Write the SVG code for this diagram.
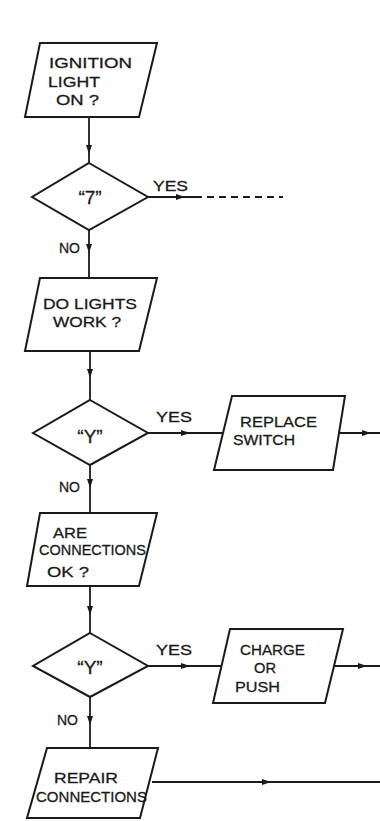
<svg xmlns="http://www.w3.org/2000/svg" width="380" height="821" viewBox="0 0 380 821">
<style>
.s{fill:#fff;stroke:#1a1a1a;stroke-width:2;stroke-linejoin:miter}
.c{fill:none;stroke:#1a1a1a;stroke-width:1.8;marker-mid:url(#ah)}
.t{font-family:"Liberation Sans","DejaVu Sans",sans-serif;font-size:15.5px;fill:#1a1a1a;stroke:#1a1a1a;stroke-width:0.3}
.q{font-family:"Liberation Sans","DejaVu Sans",sans-serif;font-size:19px;fill:#1a1a1a;text-anchor:middle;stroke:#1a1a1a;stroke-width:0.3}
</style>
<defs>
<marker id="ah" markerWidth="10" markerHeight="8" refX="8" refY="4" orient="auto" markerUnits="userSpaceOnUse">
<path d="M0,1 L9,4 L0,7 Z" fill="#1a1a1a"/>
</marker>
</defs>
<rect width="380" height="821" fill="#fff"/>
<g id="connectors">
<path class="c" d="M89,117 L89,153 L89,163"/>
<path class="c" d="M148,197 L184,197 L195,197"/>
<path d="M195,197 L283,197" fill="none" stroke="#1a1a1a" stroke-width="1.8" stroke-dasharray="7,5"/>
<path class="c" d="M89,230 L89,252 L89,278"/>
<path class="c" d="M90,351 L90,377 L90,400"/>
<path class="c" d="M148,433 L189,433 L223,433"/>
<path class="c" d="M337,433 L370,433 L380,433"/>
<path class="c" d="M90,465 L90,487 L90,513"/>
<path class="c" d="M90,586 L90,614 L90,633"/>
<path class="c" d="M148,666 L189,666 L222,666"/>
<path class="c" d="M334,666 L366,666 L380,666"/>
<path class="c" d="M90,697 L90,724 L90,748"/>
<path class="c" d="M152,782 L270,782 L380,782"/>
<text class="t" x="153" y="191" textLength="35" lengthAdjust="spacingAndGlyphs">YES</text>
<text class="t" x="59" y="253" textLength="21" lengthAdjust="spacingAndGlyphs">NO</text>
<text class="t" x="156" y="422" textLength="36" lengthAdjust="spacingAndGlyphs">YES</text>
<text class="t" x="59" y="492" textLength="21" lengthAdjust="spacingAndGlyphs">NO</text>
<text class="t" x="156" y="655" textLength="36" lengthAdjust="spacingAndGlyphs">YES</text>
<text class="t" x="57" y="725" textLength="21" lengthAdjust="spacingAndGlyphs">NO</text>
</g>
<g id="n1">
<path class="s" d="M40,43 L157,43 L139,117 L25,117 Z"/>
<text class="t" x="49" y="68" textLength="83" lengthAdjust="spacingAndGlyphs">IGNITION</text>
<text class="t" x="48" y="87" textLength="52" lengthAdjust="spacingAndGlyphs">LIGHT</text>
<text class="t" x="56" y="105" textLength="43" lengthAdjust="spacingAndGlyphs">ON ?</text>
</g>
<g id="d1">
<path class="s" d="M89,163 L148,197 L89,230 L32,197 Z"/>
<text class="q" x="90" y="204">“7”</text>
</g>
<g id="n2">
<path class="s" d="M40,278 L157,278 L139,351 L25,351 Z"/>
<text class="t" x="43" y="309" textLength="94" lengthAdjust="spacingAndGlyphs">DO LIGHTS</text>
<text class="t" x="53" y="327" textLength="68" lengthAdjust="spacingAndGlyphs">WORK ?</text>
</g>
<g id="d2">
<path class="s" d="M90,400 L148,433 L90,465 L33,433 Z"/>
<text class="q" x="90" y="443">“Y”</text>
</g>
<g id="n3">
<path class="s" d="M232,396 L345,396 L333,470 L214,470 Z"/>
<text class="t" x="240" y="427" textLength="77" lengthAdjust="spacingAndGlyphs">REPLACE</text>
<text class="t" x="233" y="445" textLength="62" lengthAdjust="spacingAndGlyphs">SWITCH</text>
</g>
<g id="n4">
<path class="s" d="M40,513 L157,513 L139,586 L27,586 Z"/>
<text class="t" x="53" y="538" textLength="34" lengthAdjust="spacingAndGlyphs">ARE</text>
<text class="t" x="39" y="555" textLength="107" lengthAdjust="spacingAndGlyphs">CONNECTIONS</text>
<text class="t" x="47" y="577" textLength="42" lengthAdjust="spacingAndGlyphs">OK ?</text>
</g>
<g id="d3">
<path class="s" d="M90,633 L148,666 L90,697 L33,666 Z"/>
<text class="q" x="90" y="674">“Y”</text>
</g>
<g id="n5">
<path class="s" d="M230,629 L343,629 L325,703 L213,703 Z"/>
<text class="t" x="240" y="655" textLength="65" lengthAdjust="spacingAndGlyphs">CHARGE</text>
<text class="t" x="254" y="673" textLength="22" lengthAdjust="spacingAndGlyphs">OR</text>
<text class="t" x="235" y="692" textLength="45" lengthAdjust="spacingAndGlyphs">PUSH</text>
</g>
<g id="n6">
<path class="s" d="M47,748 L158,748 L140,818 L27,818 Z"/>
<text class="t" x="54" y="783" textLength="64" lengthAdjust="spacingAndGlyphs">REPAIR</text>
<text class="t" x="36" y="802" textLength="111" lengthAdjust="spacingAndGlyphs">CONNECTIONS</text>
</g>
</svg>
